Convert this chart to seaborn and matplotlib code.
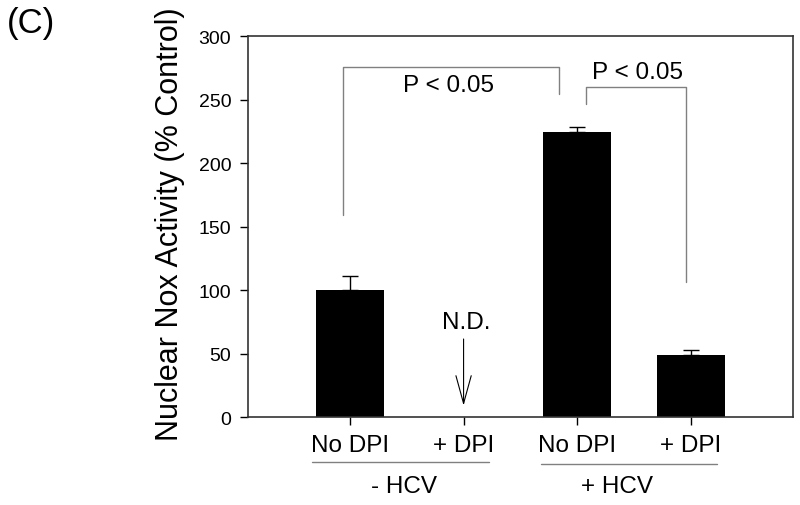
import numpy as np
import pandas as pd
import matplotlib
matplotlib.use("Agg")
import matplotlib.pyplot as plt
import seaborn as sns

# ---- data ----
conditions = ["-HCV No DPI", "-HCV + DPI", "+HCV No DPI", "+HCV + DPI"]
tick_labels = ["No DPI", "+ DPI", "No DPI", "+ DPI"]
values = [100, 0, 224.5, 48.5]
errors = [11.5, 0, 4, 4]
groups = ["- HCV", "+ HCV"]
y_ticks = [0, 50, 100, 150, 200, 250, 300]
sig_text = ["P < 0.05", "P < 0.05"]
nd_text = "N.D."

sns.set_style("ticks")
plt.rcParams["font.family"] = ["Liberation Sans", "DejaVu Sans"]
plt.rcParams["text.color"] = "black"
plt.rcParams["axes.labelcolor"] = "black"
plt.rcParams["xtick.color"] = "black"
plt.rcParams["ytick.color"] = "black"

df = pd.DataFrame({"condition": conditions, "value": values})

fig = plt.figure(figsize=(8, 5.06), dpi=100)
ax = fig.add_axes([0.31, 0.1739, 0.681, 0.752])

sns.barplot(data=df, x="condition", y="value", order=conditions, color="black",
            width=0.6, saturation=1, errorbar=None, ax=ax, edgecolor="black",
            linewidth=0)

xs = np.arange(len(conditions))
for x, v, e in zip(xs, values, errors):
    if e > 0:
        ax.errorbar([x], [v], yerr=[[0], [e]], fmt="none", ecolor="black",
                    elinewidth=1.0, capsize=5.5, capthick=1.0)

ax.set_xlim(-0.897, 3.897)
ax.set_ylim(0, 300)
ax.set_yticks(y_ticks)
ax.set_yticklabels([str(t) for t in y_ticks], fontsize=14)
ax.set_xticks(xs)
ax.set_xticklabels(tick_labels, fontsize=17.5)
ax.set_xlabel("")
ax.set_ylabel("Nuclear Nox Activity (% Control)", fontsize=22)
ax.yaxis.set_label_coords(-0.115, 0.51)
ax.tick_params(axis="both", direction="out", length=6, width=1)
ax.tick_params(axis="x", pad=6)
ax.tick_params(axis="y", pad=6)
for s in ax.spines.values():
    s.set_visible(True)
    s.set_color("#333333")
    s.set_linewidth(1.2)

# significance brackets
bcol = "#808080"
ax.plot([-0.058, -0.058, 1.84, 1.84], [159, 276, 276, 254.7], color=bcol, lw=1.0)
ax.plot([2.076, 2.076, 2.96, 2.96], [247, 260, 260, 106.7], color=bcol, lw=1.0)
ax.text(0.87, 262, sig_text[0], ha="center", va="center", fontsize=17.5)
ax.text(2.53, 272, sig_text[1], ha="center", va="center", fontsize=17.5)

# N.D. arrow
ax.text(1.02, 75, nd_text, ha="center", va="center", fontsize=17.5)
ax.annotate("", xy=(1, 9), xytext=(1, 61.5),
            arrowprops=dict(arrowstyle="->,head_length=2.0,head_width=0.55",
                            mutation_scale=10, color="black", lw=0.8,
                            shrinkA=0, shrinkB=0))

# group lines & labels
trans = ax.get_xaxis_transform()
ax.plot([-0.337, 1.22], [-0.118, -0.118], transform=trans, color=bcol, lw=1.0, clip_on=False)
ax.plot([1.68, 3.23], [-0.1235, -0.1235], transform=trans, color=bcol, lw=1.0, clip_on=False)
ax.text(0.48, -0.181, groups[0], transform=trans, ha="center", va="center", fontsize=17.5)
ax.text(2.35, -0.181, groups[1], transform=trans, ha="center", va="center", fontsize=17.5)

fig.text(0.008, 0.9526, "(C)", fontsize=25, ha="left", va="center")

fig.savefig("out.png", dpi=100)
